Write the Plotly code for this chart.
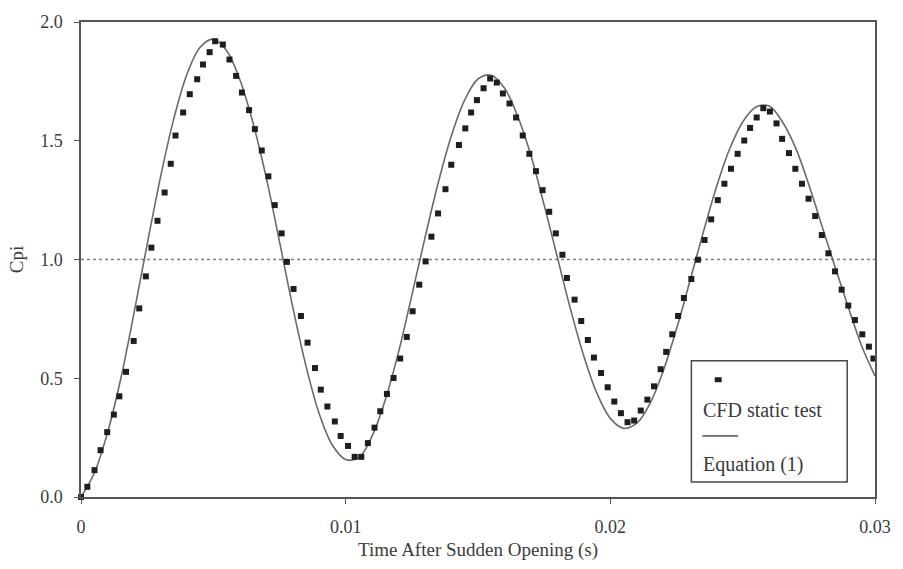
import plotly.graph_objects as go

# ---- data ----
cfd_t = [0.0000, 0.00024, 0.00051, 0.00074, 0.00099, 0.00124, 0.00145, 0.00170, 0.00199, 0.00220,
         0.00245, 0.00266, 0.00289, 0.00316, 0.00339, 0.00357, 0.00386, 0.00411, 0.00439, 0.00461,
         0.00486, 0.00507, 0.00536, 0.00561, 0.00586, 0.00608, 0.00635, 0.00657, 0.00683, 0.00708,
         0.00732, 0.00758, 0.00778, 0.00803, 0.00831, 0.00856, 0.00884, 0.00906, 0.00931, 0.00959,
         0.00981, 0.01009, 0.01034, 0.01059, 0.01084, 0.01109, 0.01131, 0.01156, 0.01181, 0.01206,
         0.01231, 0.01253, 0.01278, 0.01302, 0.01324, 0.01349, 0.01377, 0.01399, 0.01428, 0.01452,
         0.01474, 0.01496, 0.01521, 0.01546, 0.01571, 0.01594, 0.01619, 0.01644, 0.01669, 0.01694,
         0.01719, 0.01744, 0.01769, 0.01794, 0.01819, 0.01836, 0.01865, 0.01890, 0.01915, 0.01938,
         0.01965, 0.01990, 0.02015, 0.02040, 0.02065, 0.02090, 0.02115, 0.02140, 0.02165, 0.02190,
         0.02211, 0.02234, 0.02256, 0.02278, 0.02306, 0.02331, 0.02356, 0.02381, 0.02406, 0.02431,
         0.02456, 0.02481, 0.02506, 0.02528, 0.02553, 0.02578, 0.02603, 0.02628, 0.02649, 0.02675,
         0.02699, 0.02724, 0.02749, 0.02774, 0.02799, 0.02824, 0.02849, 0.02874, 0.02899, 0.02924,
         0.02952, 0.02977, 0.02994]
cfd_cp = [0.000, 0.043, 0.113, 0.197, 0.273, 0.347, 0.424, 0.527, 0.657, 0.794,
          0.929, 1.050, 1.163, 1.282, 1.403, 1.522, 1.619, 1.696, 1.759, 1.821,
          1.873, 1.919, 1.905, 1.842, 1.773, 1.703, 1.629, 1.549, 1.459, 1.350,
          1.229, 1.110, 0.990, 0.876, 0.762, 0.650, 0.543, 0.452, 0.381, 0.318,
          0.257, 0.215, 0.169, 0.169, 0.227, 0.292, 0.361, 0.434, 0.501, 0.583,
          0.674, 0.782, 0.894, 0.992, 1.096, 1.194, 1.296, 1.399, 1.482, 1.552,
          1.619, 1.671, 1.721, 1.762, 1.745, 1.699, 1.657, 1.598, 1.522, 1.445,
          1.372, 1.292, 1.201, 1.110, 1.020, 0.922, 0.831, 0.741, 0.661, 0.587,
          0.522, 0.462, 0.402, 0.353, 0.315, 0.322, 0.364, 0.410, 0.466, 0.538,
          0.611, 0.685, 0.762, 0.838, 0.918, 0.999, 1.082, 1.169, 1.250, 1.319,
          1.382, 1.445, 1.501, 1.554, 1.598, 1.637, 1.623, 1.573, 1.508, 1.448,
          1.382, 1.319, 1.256, 1.183, 1.103, 1.026, 0.950, 0.873, 0.806, 0.745,
          0.685, 0.633, 0.583]

eq_t = [0.0000, 0.0005, 0.0010, 0.0015, 0.0020, 0.0025, 0.0030, 0.0035, 0.0040, 0.0045,
        0.0050, 0.0055, 0.0060, 0.0065, 0.0070, 0.0075, 0.0080, 0.0085, 0.0090, 0.0095,
        0.0100, 0.0105, 0.0110, 0.0115, 0.0120, 0.0125, 0.0130, 0.0135, 0.0140, 0.0145,
        0.0150, 0.0155, 0.0160, 0.0165, 0.0170, 0.0175, 0.0180, 0.0185, 0.0190, 0.0195,
        0.0200, 0.0205, 0.0210, 0.0215, 0.0220, 0.0225, 0.0230, 0.0235, 0.0240, 0.0245,
        0.0250, 0.0255, 0.0260, 0.0265, 0.0270, 0.0275, 0.0280, 0.0285, 0.0290, 0.0295,
        0.0300]
eq_cp = [0.000, 0.100, 0.270, 0.497, 0.773, 1.064, 1.345, 1.590, 1.779, 1.894,
         1.928, 1.880, 1.758, 1.575, 1.345, 1.075, 0.800, 0.552, 0.351, 0.218,
         0.158, 0.166, 0.257, 0.410, 0.611, 0.849, 1.093, 1.324, 1.523, 1.672,
         1.760, 1.776, 1.722, 1.603, 1.438, 1.229, 1.009, 0.789, 0.593, 0.435,
         0.331, 0.289, 0.311, 0.394, 0.531, 0.707, 0.906, 1.110, 1.302, 1.463,
         1.579, 1.642, 1.646, 1.580, 1.470, 1.315, 1.140, 0.965, 0.796, 0.635,
         0.510]

ref_t = [0.0, 0.03]
ref_cp = [1.0, 1.0]

x_ticks = [0, 0.01, 0.02, 0.03]
x_tick_text = ["0", "0.01", "0.02", "0.03"]
y_ticks = [0.0, 0.5, 1.0, 1.5, 2.0]
y_tick_text = ["0.0", "0.5", "1.0", "1.5", "2.0"]

FONT = "Liberation Serif, Times New Roman, serif"
TXT = "#3a3a3a"
AX = "#555555"

fig = go.Figure()
fig.add_trace(go.Scatter(x=ref_t, y=ref_cp, mode="lines",
                         line=dict(color="#808080", width=1.5, dash="dot"),
                         showlegend=False, hoverinfo="skip"))
fig.add_trace(go.Scatter(x=eq_t, y=eq_cp, mode="lines", name="Equation (1)",
                         line=dict(color="#6a6a6a", width=1.6, shape="spline"),
                         showlegend=False))
fig.add_trace(go.Scatter(x=cfd_t, y=cfd_cp, mode="markers", name="CFD static test",
                         marker=dict(symbol="square", size=6, color="#1e1e1e"),
                         cliponaxis=False, showlegend=False))

# legend box drawn as in the original (symbol above the text)
def px_x(p):
    return (p - 81) / 800.0

def px_y(p):
    return (497 - p) / 478.0

fig.add_shape(type="rect", xref="paper", yref="paper",
              x0=px_x(696), x1=px_x(853), y0=px_y(482), y1=px_y(360),
              line=dict(color="#4a4a4a", width=1.5), fillcolor="white", layer="above")
fig.add_shape(type="rect", xref="paper", yref="paper",
              x0=px_x(719.5), x1=px_x(726.5), y0=px_y(381.5), y1=px_y(376.5),
              line=dict(width=0), fillcolor="#1e1e1e", layer="above")
fig.add_shape(type="line", xref="paper", yref="paper",
              x0=px_x(707), x1=px_x(743), y0=px_y(435.5), y1=px_y(435.5),
              line=dict(color="#6a6a6a", width=1.6), layer="above")
fig.add_annotation(xref="paper", yref="paper", x=px_x(706), y=px_y(409),
                   xanchor="left", yanchor="middle", showarrow=False,
                   text="CFD static test", font=dict(family=FONT, size=20, color=TXT))
fig.add_annotation(xref="paper", yref="paper", x=px_x(706), y=px_y(464),
                   xanchor="left", yanchor="middle", showarrow=False,
                   text="Equation (1)", font=dict(family=FONT, size=20, color=TXT))

fig.update_layout(
    width=903, height=569,
    margin=dict(l=81, r=22, t=19, b=72),
    paper_bgcolor="white", plot_bgcolor="white",
    showlegend=False,
    font=dict(family=FONT, color=TXT),
    xaxis=dict(range=[0, 0.03], tickvals=x_ticks, ticktext=x_tick_text,
               ticks="outside", ticklen=5, tickwidth=1.2, tickcolor=AX,
               showline=True, linecolor=AX, linewidth=1.5, mirror=True,
               showgrid=False, zeroline=False,
               tickfont=dict(family=FONT, size=18, color=TXT),
               ticklabelstandoff=8,
               title=dict(text="Time After Sudden Opening (s)", standoff=6,
                          font=dict(family=FONT, size=19, color=TXT))),
    yaxis=dict(range=[0, 2.0], tickvals=y_ticks, ticktext=y_tick_text,
               ticks="outside", ticklen=5, tickwidth=1.2, tickcolor=AX,
               showline=True, linecolor=AX, linewidth=1.5, mirror=True,
               showgrid=False, zeroline=False,
               tickfont=dict(family=FONT, size=18, color=TXT),
               ticklabelstandoff=8,
               title=dict(text="Cpi", standoff=12,
                          font=dict(family=FONT, size=19, color=TXT))),
)

fig.write_html("out.html",
               config={"displayModeBar": False},
               post_script="document.body.style.margin='0';document.body.style.overflow='hidden';")
